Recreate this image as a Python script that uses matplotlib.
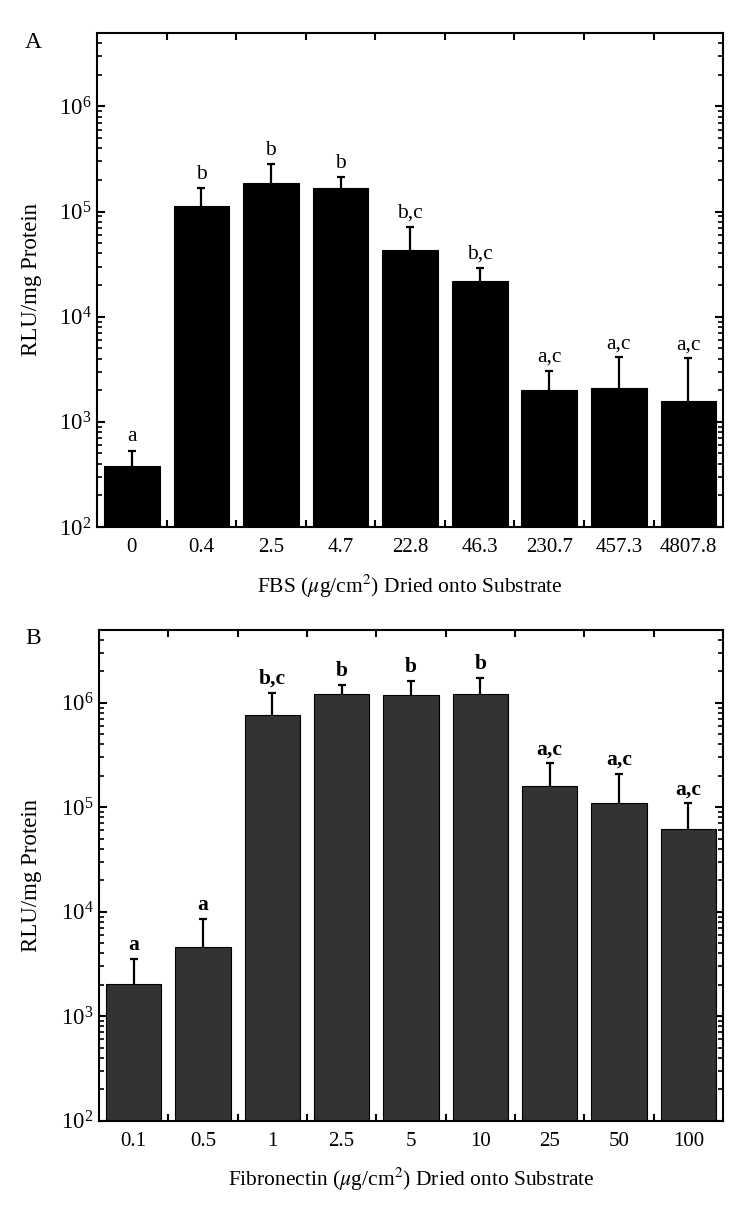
import numpy as np
import matplotlib
matplotlib.use("Agg")
import matplotlib.pyplot as plt
from matplotlib.ticker import LogLocator, FixedLocator, NullFormatter

plt.rcParams['font.family'] = ['Liberation Serif', 'DejaVu Serif']
plt.rcParams['mathtext.fontset'] = 'stix'

# panel A: FBS dried onto substrate
fbs_labels = ['0', '0.4', '2.5', '4.7', '22.8', '46.3', '230.7', '457.3', '4807.8']
fbs_means = [377, 114000, 189000, 166000, 43100, 22000, 2030, 2120, 1585]
fbs_err = [155, 53000, 92000, 47000, 28000, 7200, 1030, 1980, 2430]
fbs_letters = ['a', 'b', 'b', 'b', 'b,c', 'b,c', 'a,c', 'a,c', 'a,c']

# panel B: fibronectin dried onto substrate
fn_labels = ['0.1', '0.5', '1', '2.5', '5', '10', '25', '50', '100']
fn_means = [2050, 4610, 760000, 1220000, 1180000, 1220000, 160000, 111000, 61600]
fn_err = [1490, 3830, 480000, 270000, 430000, 500000, 103000, 98000, 47400]
fn_letters = ['a', 'a', 'b,c', 'b', 'b', 'b', 'a,c', 'a,c', 'a,c']


def draw_panel(ax, labels, means, err, letters, color, xlabel, bold_letters=False):
    x = np.arange(len(labels))
    ax.bar(x, means, width=0.8, color=color, edgecolor='black', linewidth=0.8, zorder=2)
    eb = ax.errorbar(x, means, yerr=[np.zeros(len(err)), err], fmt='none', ecolor='black',
                     elinewidth=1.6, capsize=3, capthick=1.6, zorder=3)
    eb[1][0].set_visible(False)  # only the upper cap
    for i, (m, e, s) in enumerate(zip(means, err, letters)):
        ax.annotate(s, (i, m + e), textcoords='offset points', xytext=(0, 3),
                    ha='center', va='bottom', fontsize=15.5,
                    fontweight='bold' if bold_letters else 'normal')
    ax.set_yscale('log')
    ax.set_ylim(1e2, 5e6)
    ax.set_xlim(-0.5, len(labels) - 0.5)
    ax.set_xticks(x)
    ax.set_xticklabels(labels, fontsize=15)
    ax.xaxis.set_minor_locator(FixedLocator(x[:-1] + 0.5))
    ax.tick_params(axis='x', which='major', length=0, pad=8)
    ax.tick_params(axis='x', which='minor', direction='in', length=5, width=1.5,
                   top=True, bottom=True)
    ax.yaxis.set_major_locator(LogLocator(base=10, numticks=10))
    ax.yaxis.set_minor_locator(LogLocator(base=10, subs=np.arange(2, 10), numticks=10))
    ax.yaxis.set_minor_formatter(NullFormatter())
    ax.tick_params(axis='y', which='major', direction='in', length=6, width=1.5,
                   left=True, right=True, labelsize=16.5, pad=4)
    ax.tick_params(axis='y', which='minor', direction='in', length=3.5, width=1.2,
                   left=True, right=True)
    for sp in ax.spines.values():
        sp.set_linewidth(1.5)
    ax.set_ylabel('RLU/mg Protein', fontsize=16.5)
    ax.set_xlabel(xlabel, fontsize=15.5, labelpad=11)


fig = plt.figure(figsize=(7.5, 12.07), dpi=100)
ax1 = fig.add_axes([0.1293, 0.5634, 0.835, 0.4093])
ax2 = fig.add_axes([0.132, 0.0715, 0.832, 0.4067])

draw_panel(ax1, fbs_labels, fbs_means, fbs_err, fbs_letters, 'black',
           r'FBS ($\mu$g/cm$^2$) Dried onto Substrate')
draw_panel(ax2, fn_labels, fn_means, fn_err, fn_letters, '#333333',
           r'Fibronectin ($\mu$g/cm$^2$) Dried onto Substrate', bold_letters=True)

ax1.yaxis.set_label_coords(-0.088, 0.5)
ax2.yaxis.set_label_coords(-0.091, 0.5)

fig.text(33 / 750, 1 - 43 / 1207, 'A', fontsize=17, ha='center', va='center')
fig.text(33 / 750, 1 - 638 / 1207, 'B', fontsize=17, ha='center', va='center')

fig.savefig('out.png', dpi=100)
